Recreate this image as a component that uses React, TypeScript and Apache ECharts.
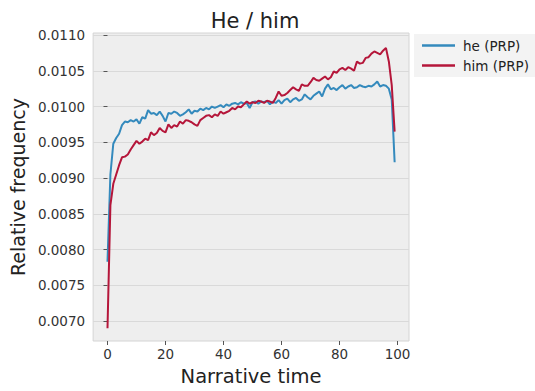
import React, { useEffect, useRef } from "react";
import * as echarts from "echarts";

const narrativeTime: number[] = Array.from({ length: 100 }, (_, i) => i);

const heValues: number[] = [
  0.00783, 0.00905, 0.00948, 0.00956, 0.00962, 0.00974, 0.00979, 0.00978, 0.00981, 0.00979,
  0.00982, 0.00976, 0.00985, 0.00983, 0.00995, 0.0099, 0.00991, 0.00988, 0.00993, 0.00987,
  0.00979, 0.00991, 0.0099, 0.00993, 0.00991, 0.00987, 0.00989, 0.00992, 0.00996, 0.0099,
  0.00994, 0.00993, 0.00997, 0.00995, 0.00998, 0.00996, 0.01, 0.00998, 0.01, 0.01002,
  0.00999, 0.01003, 0.01001, 0.01004, 0.01005, 0.01003, 0.01006, 0.01004, 0.01005, 0.00998,
  0.01006, 0.01007, 0.01004, 0.01007, 0.01006, 0.01008, 0.01003, 0.01007, 0.01005, 0.01009,
  0.01004, 0.01009, 0.01011, 0.01006, 0.0101, 0.01012, 0.01008, 0.0101, 0.01017, 0.01013,
  0.0101, 0.01015, 0.01018, 0.01021, 0.01014, 0.01025, 0.01031, 0.01024, 0.01026, 0.01023,
  0.01027, 0.0103, 0.01025, 0.01028, 0.0103, 0.01026, 0.01027, 0.0103, 0.01028, 0.01027,
  0.01029, 0.01028, 0.01031, 0.01035, 0.01028, 0.0103, 0.01029, 0.01025, 0.0101, 0.00922,
];

const himValues: number[] = [
  0.0069, 0.00862, 0.00892, 0.00905, 0.00918, 0.00929, 0.0093, 0.00933, 0.0094, 0.00946,
  0.00952, 0.00948, 0.00951, 0.00955, 0.00953, 0.00964, 0.0096, 0.00963, 0.0097, 0.00966,
  0.00964, 0.00975, 0.0097, 0.00974, 0.00972, 0.00979, 0.00976, 0.00981, 0.0098, 0.00978,
  0.00975, 0.00973, 0.00981, 0.00984, 0.00987, 0.00988, 0.00985, 0.00989, 0.00987, 0.00993,
  0.0099, 0.00992, 0.00994, 0.00998, 0.00996, 0.01, 0.00999, 0.01003, 0.01007, 0.01004,
  0.01006, 0.01005, 0.01008, 0.01007, 0.01005, 0.01008, 0.01007, 0.01005, 0.01012, 0.01021,
  0.01015, 0.01016, 0.01019, 0.01023, 0.01027, 0.01024, 0.01022, 0.01031, 0.01029, 0.01029,
  0.01034, 0.0104, 0.01037, 0.01036, 0.01039, 0.01042, 0.01038, 0.01041, 0.01049, 0.01047,
  0.01052, 0.01054, 0.01051, 0.01055, 0.01053, 0.0105, 0.01063, 0.0106, 0.01061, 0.01068,
  0.01069, 0.01074, 0.01077, 0.01075, 0.01073, 0.01078, 0.01082, 0.01063, 0.0103, 0.00965,
];

const xTicks: number[] = [0, 20, 40, 60, 80, 100];
const yTicks: number[] = [0.007, 0.0075, 0.008, 0.0085, 0.009, 0.0095, 0.01, 0.0105, 0.011];

const seriesNames = ["he (PRP)", "him (PRP)"];
const seriesColors = ["#348ABD", "#B5163A"];

const FONT = "DejaVu Sans";

export default function App() {
  const ref = useRef<HTMLDivElement>(null);
  useEffect(() => {
    if (!ref.current) return;
    const chart = echarts.init(ref.current, undefined, { renderer: "svg" });
    const toPairs = (vals: number[]) => narrativeTime.map((t, i) => [t, vals[i]]);
    chart.setOption({
      animation: false,
      backgroundColor: "#ffffff",
      title: {
        text: "He / him",
        left: 250,
        textAlign: "center",
        top: 5,
        textStyle: { fontFamily: FONT, fontSize: 21, fontWeight: "normal", color: "#222222" },
      },
      legend: {
        orient: "vertical",
        left: 414,
        top: 34,
        data: seriesNames,
        icon: "rect",
        itemWidth: 33,
        itemHeight: 2.5,
        itemGap: 5,
        backgroundColor: "#f3f3f3",
        padding: [4, 6, 4, 8],
        textStyle: { fontFamily: FONT, fontSize: 13.5, color: "#222222", lineHeight: 15, padding: [0, 0, 0, 3] },
      },
      grid: {
        left: 91,
        right: 126,
        top: 33,
        bottom: 48,
        show: true,
        backgroundColor: "#eeeeee",
        borderColor: "#d4d4d4",
        borderWidth: 1,
      },
      xAxis: {
        type: "value",
        min: -4.95,
        max: 103.95,
        name: "Narrative time",
        nameLocation: "middle",
        nameGap: 25,
        nameTextStyle: { fontFamily: FONT, fontSize: 19.5, color: "#222222" },
        axisLine: { show: false },
        axisTick: { show: true, customValues: xTicks, length: 4, lineStyle: { color: "#555555" } },
        axisLabel: {
          customValues: xTicks,
          fontFamily: FONT,
          fontSize: 13.5,
          color: "#333333",
          margin: 6,
        },
        splitLine: { show: false },
      },
      yAxis: {
        type: "value",
        min: 0.006722,
        max: 0.011028,
        name: "Relative frequency",
        nameLocation: "middle",
        nameGap: 64,
        nameTextStyle: { fontFamily: FONT, fontSize: 19, color: "#222222" },
        axisLine: { show: false },
        axisTick: { show: true, customValues: yTicks, length: 4, lineStyle: { color: "#555555" } },
        axisLabel: {
          customValues: yTicks,
          fontFamily: FONT,
          fontSize: 13.5,
          color: "#333333",
          margin: 8,
          formatter: (v: number) => v.toFixed(4),
        },
        splitLine: { show: true, lineStyle: { color: "#d9d9d9", width: 1 } },
      },
      series: [
        {
          name: seriesNames[0],
          type: "line",
          data: toPairs(heValues),
          showSymbol: false,
          symbol: "none",
          lineStyle: { color: seriesColors[0], width: 2 },
          itemStyle: { color: seriesColors[0] },
        },
        {
          name: seriesNames[1],
          type: "line",
          data: toPairs(himValues),
          showSymbol: false,
          symbol: "none",
          lineStyle: { color: seriesColors[1], width: 2 },
          itemStyle: { color: seriesColors[1] },
        },
      ],
    });
    return () => chart.dispose();
  }, []);
  return (
    <div
      ref={ref}
      style={{ position: "fixed", left: 0, top: 0, width: 535, height: 391 }}
    />
  );
}
